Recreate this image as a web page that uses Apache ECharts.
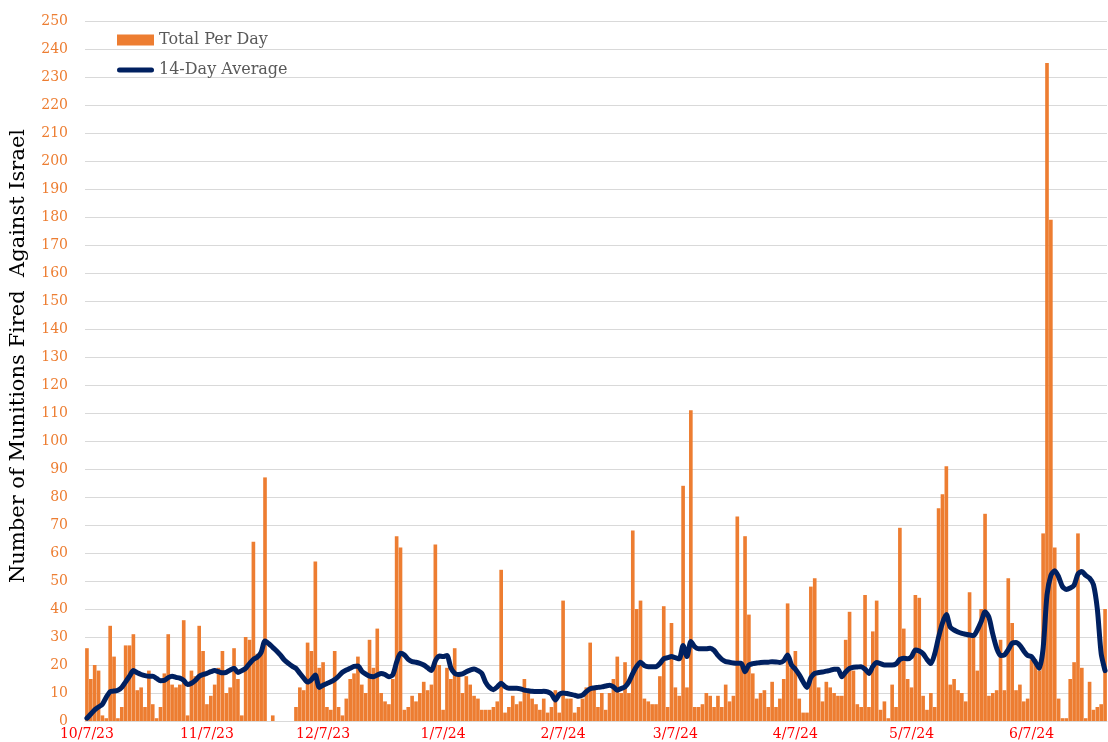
<!DOCTYPE html>
<html>
<head>
<meta charset="utf-8">
<script src="https://cdn.jsdelivr.net/npm/echarts@6/dist/echarts.min.js"></script>
<style>
  html, body { margin: 0; padding: 0; background: #fff; }
  #chart { width: 1108px; height: 742px; }
</style>
</head>
<body>
<div id="chart"></div>
<script>
// daily counts, starting 10/7/23
var startDate = [2023, 10, 7];

var totalPerDay = [
  26, 15, 20, 18, 2, 1, 34, 23, 1, 5,
  27, 27, 31, 11, 12, 5, 18, 6, 1, 5,
  17, 31, 13, 12, 13, 36, 2, 18, 16, 34,
  25, 6, 9, 13, 19, 25, 10, 12, 26, 15,
  2, 30, 29, 64, 24, 25, 87, 0, 2, 0,
  0, 0, 0, 0, 5, 12, 11, 28, 25, 57,
  19, 21, 5, 4, 25, 5, 2, 8, 15, 17,
  23, 13, 10, 29, 19, 33, 10, 7, 6, 15,
  66, 62, 4, 5, 9, 7, 10, 14, 11, 13,
  63, 20, 4, 19, 15, 26, 17, 10, 16, 13,
  9, 8, 4, 4, 4, 5, 7, 54, 3, 5,
  9, 6, 7, 15, 10, 8, 6, 4, 8, 3,
  5, 11, 3, 43, 8, 8, 3, 5, 8, 12,
  28, 12, 5, 10, 4, 10, 15, 23, 10, 21,
  10, 68, 40, 43, 8, 7, 6, 6, 16, 41,
  5, 35, 12, 9, 84, 12, 111, 5, 5, 6,
  10, 9, 5, 9, 5, 13, 7, 9, 73, 20,
  66, 38, 17, 8, 10, 11, 5, 14, 5, 8,
  15, 42, 19, 25, 8, 3, 3, 48, 51, 12,
  7, 14, 12, 10, 9, 9, 29, 39, 18, 6,
  5, 45, 5, 32, 43, 4, 7, 1, 13, 5,
  69, 33, 15, 12, 45, 44, 9, 4, 10, 5,
  76, 81, 91, 13, 15, 11, 10, 7, 46, 30,
  18, 40, 74, 9, 10, 11, 29, 11, 51, 35,
  11, 13, 7, 8, 22, 22, 18, 67, 235, 179,
  62, 8, 1, 1, 15, 21, 67, 19, 1, 14,
  4, 5, 6, 40
];

var avg14 = [
  1, 2.5, 4, 5, 6, 8.5, 10.5, 10.7, 11, 12,
  14, 16, 18, 17.2, 16.6, 16.2, 16, 16, 15.2, 14.4,
  14.5, 15.5, 16, 15.6, 15.3, 14.5, 13, 13.5, 14.5, 16,
  16.6, 17, 17.6, 18, 17.6, 17.2, 17.4, 18.2, 18.8, 17.3,
  18, 18.8, 20.5, 22, 22.8, 24.5, 28.6, 27.6, 26.3, 25,
  23.5, 21.8, 20.6, 19.6, 18.8, 17, 15.3, 13.9, 14.8, 16.4,
  12, 12.8, 13.4, 14, 14.8, 16, 17.4, 18.2, 18.8, 19.5,
  19.6, 17.8, 16.8, 16, 15.8, 16.4, 17, 16.6, 15.8, 16.5,
  21, 24.2, 23.6, 22, 21.2, 21, 20.6, 20, 19, 18,
  21.5, 23.2, 23, 23.4, 19, 17, 16.6, 16.8, 17.6, 18.2,
  18.6, 18, 17, 13.8, 12, 11.2, 12.2, 13.5, 12.3, 11.7,
  11.7, 11.7, 11.5, 11, 10.8, 10.6, 10.5, 10.5, 10.6, 10.4,
  9.6, 7.5, 9.5, 10, 9.8, 9.5, 9.2, 8.8, 9.2, 10.5,
  11.5, 11.8, 12, 12.2, 12.5, 12.8, 12.2, 11, 11.6, 12.2,
  14, 17, 19.5, 21, 19.8, 19.4, 19.4, 19.4, 20.5, 22.2,
  22.6, 23, 22.6, 22.2, 27, 23, 28.4, 26.5, 25.8, 25.8,
  25.8, 26, 25.2, 23.4, 22, 21.2, 21, 20.7, 20.6, 20.6,
  17.6, 20, 20.5, 20.7, 20.9, 21, 21, 21.2, 21.1, 20.9,
  21.5, 23.6, 20, 18.5, 16.5, 14, 12, 15.5, 17, 17.3,
  17.5, 17.8, 18.1, 18.5, 18.5, 15.8, 17.5, 18.8, 19.2, 19.3,
  19.4, 18.5, 17, 19.5, 20.9, 20.5, 20, 20, 20, 20.4,
  22, 22.4, 22.2, 23, 25.4, 25, 24, 22, 20.5, 24,
  30, 35, 38, 33.5, 32.5, 31.8, 31.3, 31, 30.7, 30.5,
  32.5, 35.5, 39, 37, 31, 26, 23.4, 23.6, 25.5, 27.8,
  28, 27, 25, 23.4, 23, 21, 18.8, 26, 45, 52,
  53.7, 51.5, 48, 47, 47.5, 48.5, 52.5, 53.4, 52, 51,
  48.7, 40, 24, 18
];

// one label per category, M/D/YY
var dates = [];
var d = new Date(startDate[0], startDate[1] - 1, startDate[2]);
for (var i = 0; i < totalPerDay.length; i++) {
  dates.push((d.getMonth() + 1) + '/' + d.getDate() + '/' + String(d.getFullYear()).slice(2));
  d.setDate(d.getDate() + 1);
}

// thick rounded line for the legend (outer moves keep the full 37x11 box)
var lineIcon = 'path://M0,0 M2.5,3 L34.5,3 A2.5,2.5 0 0 1 34.5,8 L2.5,8 A2.5,2.5 0 0 1 2.5,3 Z M37,11';

var font = 'DejaVu Serif';
var chart = echarts.init(document.getElementById('chart'));
chart.setOption({
  animation: false,
  backgroundColor: '#fff',
  grid: { left: 80, right: 1, top: 21, bottom: 21 },
  legend: {
    orient: 'vertical',
    left: 112,
    top: 27,
    itemWidth: 37,
    itemHeight: 11,
    itemGap: 14,
    textStyle: { color: '#595959', fontFamily: font, fontSize: 16 },
    data: [
      { name: 'Total Per Day', icon: 'rect' },
      { name: '14-Day Average', icon: lineIcon, itemStyle: { color: '#002060', borderWidth: 0 } }
    ]
  },
  xAxis: {
    type: 'category',
    data: dates,
    axisTick: { show: false },
    axisLine: { lineStyle: { color: '#d9d9d9' } },
    axisLabel: {
      color: '#ff0000',
      fontFamily: font,
      fontSize: 14,
      margin: 6,
      interval: function (idx, val) {
        return val.split('/')[1] === '7';
      }
    }
  },
  yAxis: {
    type: 'value',
    min: 0,
    max: 250,
    interval: 10,
    name: 'Number of Munitions Fired  Against Israel',
    nameLocation: 'middle',
    nameGap: 56,
    nameTextStyle: {
      color: '#000', fontFamily: font, fontSize: 21,
      padding: [0, 0, 0, 30]
    },
    axisLine: { show: false },
    axisTick: { show: false },
    axisLabel: { color: '#ed7d31', fontFamily: font, fontSize: 14, margin: 17 },
    splitLine: { lineStyle: { color: '#d9d9d9', width: 1 } }
  },
  series: [
    {
      name: 'Total Per Day',
      type: 'bar',
      data: totalPerDay,
      barCategoryGap: '6%',
      itemStyle: { color: '#ed7d31' }
    },
    {
      name: '14-Day Average',
      type: 'line',
      data: avg14,
      symbol: 'none',
      smooth: 0.25,
      z: 3,
      lineStyle: { color: '#002060', width: 5, cap: 'round', join: 'round' },
      itemStyle: { color: '#002060' }
    }
  ]
});
</script>
</body>
</html>
